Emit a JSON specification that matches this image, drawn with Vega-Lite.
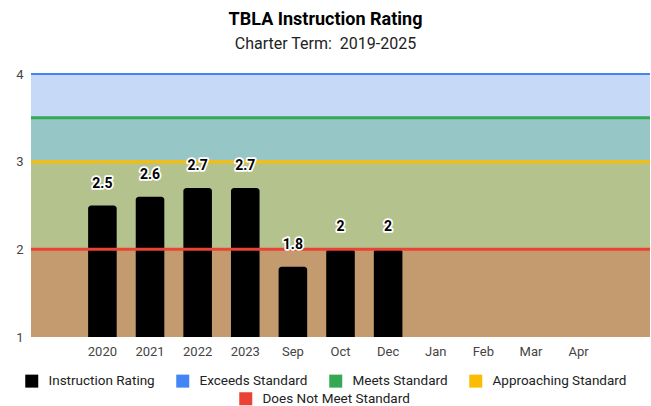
{
  "$schema": "https://vega.github.io/schema/vega-lite/v6.json",
  "width": 619,
  "height": 263,
  "autosize": {"type": "none"},
  "padding": {"left": 31, "top": 74, "right": 1, "bottom": 69},
  "background": "white",
  "title": {
    "text": "TBLA Instruction Rating",
    "subtitle": "Charter Term: \u00a02019-2025",
    "font": "Roboto",
    "fontSize": 18,
    "fontWeight": "bold",
    "color": "#000000",
    "subtitleFont": "Roboto",
    "subtitleFontSize": 16,
    "subtitleColor": "#222222",
    "anchor": "middle",
    "dx": -15,
    "offset": 16,
    "subtitlePadding": 7
  },
  "config": {
    "view": {"stroke": null},
    "axisY": {"labelFont": "Roboto", "labelFontSize": 13, "labelColor": "#444444", "ticks": false, "domain": false, "grid": false, "labelPadding": 8},
    "axisX": {"labelFont": "Roboto", "labelFontSize": 13, "labelColor": "#444444", "ticks": false, "domain": false, "grid": false, "labelPadding": 8, "labelAngle": 0},
    "legend": {"labelFont": "Roboto", "labelFontSize": 13.5, "labelColor": "#222222", "symbolType": "square", "symbolSize": 169, "labelOffset": 10, "columnPadding": 21, "symbolStrokeWidth": 0, "title": null}
  },
  "datasets": {
    "ratings": [
      {"period": "2020", "rating": 2.5, "series": "Instruction Rating"},
      {"period": "2021", "rating": 2.6, "series": "Instruction Rating"},
      {"period": "2022", "rating": 2.7, "series": "Instruction Rating"},
      {"period": "2023", "rating": 2.7, "series": "Instruction Rating"},
      {"period": "Sep", "rating": 1.8, "series": "Instruction Rating"},
      {"period": "Oct", "rating": 2, "series": "Instruction Rating"},
      {"period": "Dec", "rating": 2, "series": "Instruction Rating"}
    ],
    "bands": [
      {"standard": "Exceeds Standard", "low": 3.5, "high": 4},
      {"standard": "Meets Standard", "low": 3, "high": 3.5},
      {"standard": "Approaching Standard", "low": 2, "high": 3},
      {"standard": "Does Not Meet Standard", "low": 1, "high": 2}
    ]
  },
  "layer": [
    {
      "data": {"name": "bands"},
      "mark": {"type": "rect"},
      "encoding": {
        "y": {"field": "low", "type": "quantitative", "scale": {"domain": [1, 4]}, "title": null, "axis": {"values": [1, 2, 3, 4], "format": "d"}},
        "y2": {"field": "high"},
        "fill": {
          "field": "standard",
          "type": "nominal",
          "scale": {
            "domain": ["Exceeds Standard", "Meets Standard", "Approaching Standard", "Does Not Meet Standard"],
            "range": ["#c6d9f6", "#96c7c6", "#b4c38e", "#c49a6f"]
          },
          "legend": null
        }
      }
    },
    {
      "data": {"name": "ratings"},
      "mark": {"type": "bar", "cornerRadiusTopLeft": 3, "cornerRadiusTopRight": 3},
      "encoding": {
        "x": {
          "field": "period",
          "type": "nominal",
          "title": null,
          "scale": {
            "domain": ["2020", "2021", "2022", "2023", "Sep", "Oct", "Dec", "Jan", "Feb", "Mar", "Apr"],
            "paddingInner": 0.4,
            "paddingOuter": 1,
            "range": [9.5, 609.5]
          }
        },
        "y": {"field": "rating", "type": "quantitative", "title": null},
        "y2": {"datum": 1},
        "color": {
          "field": "series",
          "type": "nominal",
          "scale": {
            "domain": ["Instruction Rating", "Exceeds Standard", "Meets Standard", "Approaching Standard"],
            "range": ["#000000", "#4285F4", "#34A853", "#FBBC04"]
          },
          "legend": {"orient": "none", "direction": "horizontal", "legendX": -6, "legendY": 300}
        }
      }
    },
    {
      "data": {"name": "bands"},
      "transform": [{"filter": "datum.standard === 'Exceeds Standard'"}],
      "mark": {"type": "rule", "color": "#4285F4", "strokeWidth": 2},
      "encoding": {"y": {"field": "high", "type": "quantitative", "title": null}}
    },
    {
      "data": {"name": "bands"},
      "transform": [{"filter": "datum.standard === 'Meets Standard'"}],
      "mark": {"type": "rule", "color": "#34A853", "strokeWidth": 3},
      "encoding": {"y": {"field": "high", "type": "quantitative", "title": null}}
    },
    {
      "data": {"name": "bands"},
      "transform": [{"filter": "datum.standard === 'Approaching Standard'"}],
      "mark": {"type": "rule", "color": "#FBBC04", "strokeWidth": 3},
      "encoding": {"y": {"field": "high", "type": "quantitative", "title": null}}
    },
    {
      "data": {"name": "bands"},
      "transform": [{"filter": "datum.standard === 'Does Not Meet Standard'"}],
      "mark": {"type": "rule", "strokeWidth": 3},
      "encoding": {
        "y": {"field": "high", "type": "quantitative", "title": null},
        "stroke": {
          "field": "standard",
          "type": "nominal",
          "scale": {"domain": ["Does Not Meet Standard"], "range": ["#EA4335"]},
          "legend": {"orient": "none", "direction": "horizontal", "legendX": 208, "legendY": 318, "symbolFillColor": "#EA4335"}
        }
      }
    },
    {
      "data": {"name": "ratings"},
      "mark": {"type": "text", "font": "Roboto", "fontSize": 14, "fontWeight": "bold", "dy": -22, "baseline": "middle", "stroke": "#ffffff", "strokeWidth": 3.5, "strokeJoin": "round", "color": "#ffffff"},
      "encoding": {
        "x": {"field": "period", "type": "nominal"},
        "y": {"field": "rating", "type": "quantitative", "title": null},
        "text": {"field": "rating", "type": "quantitative"}
      }
    },
    {
      "data": {"name": "ratings"},
      "mark": {"type": "text", "font": "Roboto", "fontSize": 14, "fontWeight": "bold", "dy": -22, "baseline": "middle", "color": "#000000"},
      "encoding": {
        "x": {"field": "period", "type": "nominal"},
        "y": {"field": "rating", "type": "quantitative", "title": null},
        "text": {"field": "rating", "type": "quantitative"}
      }
    }
  ]
}
